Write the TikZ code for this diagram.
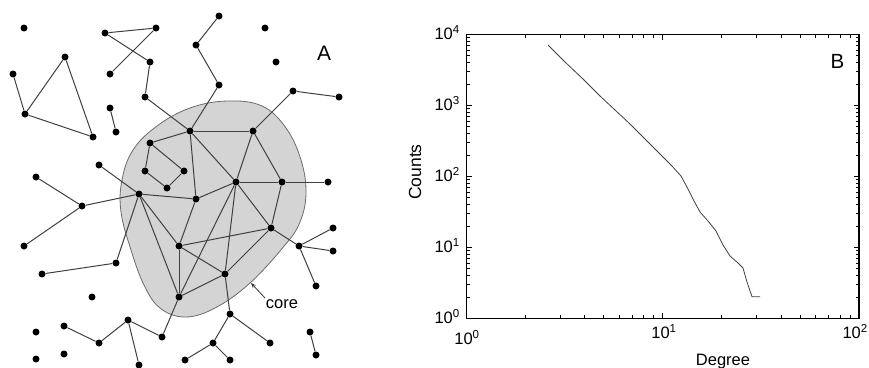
\documentclass[tikz,border=0pt]{standalone}
\usepackage{fontspec}
\setmainfont{Liberation Sans}
\usetikzlibrary{arrows.meta}
\begin{document}
\begin{tikzpicture}[x=1pt,y=-1pt,
  dot/.style={circle,fill=black,inner sep=0pt,minimum size=7pt},
  edge/.style={draw=black!75,line width=1pt},
  corestyle/.style={fill=black!17,draw=black!58,line width=0.8pt},
  panel/.style={font=\fontsize{21}{24}\selectfont,inner sep=0pt},
  ticklab/.style={font=\fontsize{16.5}{18}\selectfont,inner sep=0pt},
  axlab/.style={font=\fontsize{16.5}{18}\selectfont,inner sep=0pt},
  axisbox/.style={draw=black,line width=1.5pt},
  tickline/.style={draw=black,line width=0.8pt},
  curve/.style={draw=black!75,line width=0.8pt}]
\useasboundingbox (0,0) rectangle (869,367);

% ---------- panel A : core region ----------
\draw[corestyle] plot[smooth cycle,tension=0.65] coordinates {
  (227,101) (262,106) (286,128) (301,160) (306,193) (300,222) (285,245)
  (250,283) (215,308) (185,317) (160,308) (144,285) (131,250) (121,212)
  (122,180) (133,150) (157,126) (190,108)};

% nodes
\foreach \n/\x/\y in {
  1/24/28, 2/105/33, 3/156/28, 4/150/62, 5/110/74, 6/145/97, 7/65/57,
  8/13/74, 9/25/114, 10/93/137, 11/110/108, 12/116/132, 13/219/16,
  14/196/45, 15/219/85, 16/265/28, 17/276/62, 18/293/91, 19/339/97,
  20/190/131, 21/253/131, 22/150/143, 23/145/171, 24/184/171, 25/167/188,
  26/99/165, 27/36/177, 28/139/194, 29/196/199, 30/236/182, 31/282/182,
  32/328/182, 33/82/206, 34/24/246, 35/116/263, 36/42/274, 37/179/246,
  38/179/297, 39/225/274, 40/271/228, 41/299/246, 42/333/228, 43/333/251,
  44/316/286, 45/230/314, 46/270/343, 47/213/343, 48/185/360, 49/230/360,
  50/92/297, 51/36/332, 52/64/326, 53/99/343, 54/128/320, 55/162/337,
  56/139/365, 57/36/359, 58/64/354, 59/310/332, 60/316/355}
  \node[dot] (n\n) at (\x,\y) {};

% edges
\foreach \a/\b in {
  2/3, 2/4, 3/5, 4/6, 6/20, 7/9, 7/10, 8/9, 9/10, 11/12, 13/14, 14/15,
  15/20, 18/19, 18/21, 20/21, 20/22, 22/23, 22/24, 23/25, 24/25, 20/29,
  20/30, 21/30, 21/31, 30/31, 31/32, 26/28, 27/33, 28/33, 33/34, 28/29,
  29/30, 28/37, 28/38, 28/35, 35/36, 29/37, 37/38, 30/39, 30/38, 30/40,
  31/40, 37/39, 37/40, 38/39, 39/40, 40/41, 41/42, 41/43, 41/44, 39/45,
  45/46, 45/47, 47/48, 47/49, 38/55, 52/53, 53/54, 54/55, 54/56, 59/60}
  \draw[edge] (n\a) -- (n\b);

\node[panel] (labA) at (324,53) {A};
\node[axlab] (core) at (282,304) {core};
\coordinate (cT) at (265,298);
\coordinate (cH) at (251,283);
\draw[draw=black!80,line width=0.8pt,-{Stealth[length=5pt,width=4pt]}] (cT) -- (cH);

% ---------- panel B : degree distribution ----------
\draw[axisbox] (466.7,34.5) rectangle (859,318.3);
% x ticks
\foreach \d in {0,1}{
  \foreach \k in {2,...,9}{
    \pgfmathsetmacro{\xx}{466.7+196.15*(\d+log10(\k))}
    \draw[tickline] (\xx,318.3) -- ++(0,-3);
    \draw[tickline] (\xx,34.5) -- ++(0,3);
  }}
\foreach \d in {1}{
  \pgfmathsetmacro{\xx}{466.7+196.15*\d}
  \draw[tickline] (\xx,318.3) -- ++(0,-5);
  \draw[tickline] (\xx,34.5) -- ++(0,5);
}
% y ticks
\foreach \d in {0,1,2,3}{
  \foreach \k in {2,...,9}{
    \pgfmathsetmacro{\yy}{318.3-70.95*(\d+log10(\k))}
    \draw[tickline] (466.7,\yy) -- ++(3,0);
    \draw[tickline] (859,\yy) -- ++(-3,0);
  }}
\foreach \d in {1,2,3}{
  \pgfmathsetmacro{\yy}{318.3-70.95*\d}
  \draw[tickline] (466.7,\yy) -- ++(5,0);
  \draw[tickline] (859,\yy) -- ++(-5,0);
}

% data
\draw[curve] (548,45) -- (565,62) -- (583,79) -- (600,96) -- (615,110)
  -- (630,124) -- (645,139) -- (660,154) -- (672,166) -- (681,176)
  -- (688,189) -- (694,201) -- (700,212) -- (708,221) -- (716,231)
  -- (723,245) -- (730,256) -- (738,263) -- (743,268) -- (747,282)
  -- (752,296.7) -- (760,296.7);

% tick labels
\node[ticklab,anchor=mid east] (y4) at (460,37) {10\textsuperscript{4}};
\node[ticklab,anchor=mid east] (y3) at (460,108) {10\textsuperscript{3}};
\node[ticklab,anchor=mid east] (y2) at (460,179) {10\textsuperscript{2}};
\node[ticklab,anchor=mid east] (y1) at (460,250) {10\textsuperscript{1}};
\node[ticklab,anchor=mid east] (y0) at (460,321) {10\textsuperscript{0}};
\node[ticklab,anchor=mid] (x0) at (467,342) {10\textsuperscript{0}};
\node[ticklab,anchor=mid] (x1) at (664,336) {10\textsuperscript{1}};
\node[ticklab,anchor=mid east] (x2) at (868,336) {10\textsuperscript{2}};

\node[axlab,anchor=base] (xlab) at (723,365) {Degree};
\node[axlab,rotate=90,font=\fontsize{17.5}{19}\selectfont] (ylab) at (415,172) {Counts};
\node[panel,font=\fontsize{20.5}{23}\selectfont] (labB) at (837.5,61) {B};
\end{tikzpicture}
\end{document}
